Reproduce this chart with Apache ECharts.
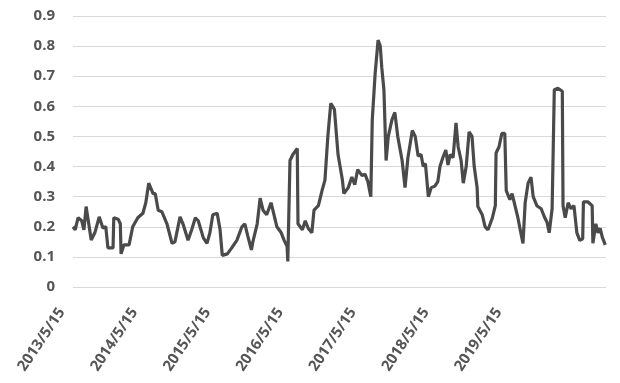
<!DOCTYPE html>
<html>
<head>
<meta charset="utf-8">
<script src="https://cdn.jsdelivr.net/npm/echarts@6/dist/echarts.min.js"></script>
<style>
html,body{margin:0;padding:0;background:#fff;}
#c{width:620px;height:383px;}
</style>
</head>
<body>
<div id="c"></div>
<script>
// x: years elapsed since 2013/5/15, y: value
const startYear = 2013;
const tickLabelSuffix = '/5/15';
const yTicks = [0, 0.1, 0.2, 0.3, 0.4, 0.5, 0.6, 0.7, 0.8, 0.9];

const t2013 = [0.00,0.03,0.07,0.12,0.15,0.18,0.21,0.25,0.30,0.36,0.41,0.45,0.48,0.55,0.56,0.62,0.65,0.66,0.70,0.77,0.82,0.89,0.96];
const v2013 = [0.20,0.19,0.23,0.22,0.19,0.267,0.22,0.156,0.18,0.233,0.196,0.20,0.13,0.13,0.23,0.225,0.21,0.11,0.14,0.14,0.20,0.23,0.245];

const t2014 = [1.00,1.04,1.10,1.13,1.17,1.22,1.29,1.36,1.40,1.47,1.51,1.58,1.63,1.68,1.72,1.79,1.84,1.88,1.92,1.98];
const v2014 = [0.28,0.345,0.31,0.31,0.255,0.25,0.21,0.145,0.15,0.233,0.21,0.155,0.19,0.23,0.22,0.163,0.145,0.18,0.24,0.245];

const t2015 = [2.02,2.05,2.12,2.18,2.25,2.32,2.36,2.40,2.45,2.47,2.53,2.57,2.61,2.66,2.72,2.75,2.80,2.86,2.90,2.94,2.95,2.98];
const v2015 = [0.19,0.105,0.11,0.13,0.155,0.20,0.21,0.17,0.123,0.15,0.21,0.295,0.255,0.24,0.28,0.25,0.20,0.18,0.155,0.135,0.085,0.42];

const t2016 = [3.02,3.08,3.09,3.15,3.19,3.23,3.28,3.31,3.37,3.42,3.46,3.50,3.54,3.59,3.64,3.70,3.72,3.78,3.83,3.87,3.91,3.97];
const v2016 = [0.44,0.46,0.21,0.19,0.22,0.195,0.18,0.255,0.27,0.32,0.355,0.50,0.61,0.59,0.44,0.355,0.31,0.33,0.365,0.34,0.39,0.37];

const t2017 = [4.01,4.05,4.09,4.11,4.15,4.19,4.22,4.24,4.27,4.30,4.33,4.38,4.42,4.46,4.52,4.56,4.60,4.66,4.70,4.74,4.78,4.81,4.84,4.88,4.92,4.97];
const v2017 = [0.375,0.35,0.30,0.555,0.71,0.82,0.80,0.73,0.655,0.42,0.50,0.555,0.58,0.50,0.42,0.33,0.43,0.52,0.50,0.435,0.44,0.40,0.41,0.30,0.33,0.335];

const t2018 = [5.01,5.04,5.08,5.12,5.15,5.18,5.22,5.26,5.29,5.33,5.36,5.40,5.44,5.48,5.51,5.55,5.56,5.62,5.66,5.70,5.76,5.80,5.81,5.85,5.89,5.93,5.95];
const v2018 = [0.35,0.40,0.43,0.455,0.405,0.44,0.43,0.545,0.465,0.42,0.345,0.40,0.515,0.50,0.40,0.33,0.267,0.24,0.20,0.19,0.23,0.27,0.445,0.465,0.51,0.51,0.32];

const t2019 = [6.00,6.03,6.07,6.11,6.15,6.18,6.21,6.25,6.29,6.32,6.37,6.43,6.47,6.51,6.54,6.58,6.61,6.66,6.72,6.73,6.76,6.80,6.84,6.88,6.92,6.96,7.00,7.01,7.07,7.13,7.14,7.18,7.21,7.24,7.27,7.31];
const v2019 = [0.29,0.31,0.27,0.23,0.18,0.145,0.28,0.345,0.365,0.30,0.27,0.26,0.235,0.215,0.18,0.26,0.655,0.66,0.65,0.27,0.23,0.28,0.26,0.27,0.18,0.155,0.16,0.283,0.283,0.27,0.145,0.21,0.18,0.195,0.165,0.14];

const tAll = [].concat(t2013,t2014,t2015,t2016,t2017,t2018,t2019);
const vAll = [].concat(v2013,v2014,v2015,v2016,v2017,v2018,v2019);
const data = tAll.map((x,i)=>[x, vAll[i]]);

const chart = echarts.init(document.getElementById('c'), null, {renderer:'canvas'});
chart.setOption({
  animation:false,
  backgroundColor:'#ffffff',
  grid:{left:73, right:14, top:16, bottom:96, containLabel:false},
  xAxis:{
    type:'value', min:0, max:7.32, interval:1,
    axisLine:{show:false}, axisTick:{show:false}, splitLine:{show:false},
    axisLabel:{
      rotate:56, margin:6, showMaxLabel:false, padding:[0,20,0,0],
      color:'#555555', fontSize:15, fontWeight:'bold', fontFamily:'"Open Sans", sans-serif',
      formatter:(v)=> (v<=6 ? (startYear+Math.round(v))+tickLabelSuffix : '')
    }
  },
  yAxis:{
    type:'value', min:yTicks[0], max:yTicks[yTicks.length-1], interval:0.1,
    axisLine:{show:false}, axisTick:{show:false},
    splitLine:{lineStyle:{color:'#d9d9d9', width:1}},
    axisLabel:{
      margin:18, color:'#555555', fontSize:15, fontWeight:'bold', fontFamily:'"Open Sans", sans-serif',
      formatter:(v)=> String(Math.round(v*10)/10)
    }
  },
  series:[{
    type:'line', data:data, showSymbol:false, smooth:false,
    lineStyle:{color:'#4a4a4a', width:3.2}
  }]
});
</script>
</body>
</html>
